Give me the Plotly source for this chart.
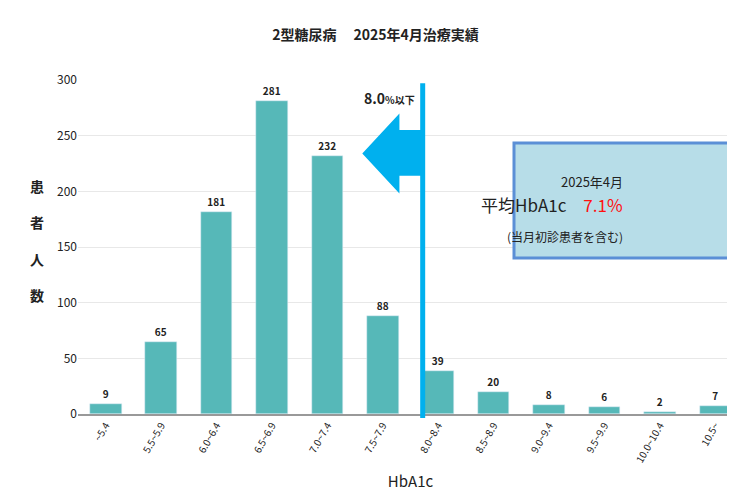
import plotly.graph_objects as go

categories = ["~5.4","5.5~5.9","6.0~6.4","6.5~6.9","7.0~7.4","7.5~7.9","8.0~8.4","8.5~8.9","9.0~9.4","9.5~9.9","10.0~10.4","10.5~"]
patients = [9,65,181,281,232,88,39,20,8,6,2,7]
y_ticks = [0,50,100,150,200,250,300]

F = "Noto Sans CJK JP"
fig = go.Figure(go.Bar(
    x=list(range(len(categories))), y=patients, width=0.57,
    marker_color="#56b8b8", text=[f"<b>{v}</b>" for v in patients], textposition="outside",
    textfont=dict(size=10, color="#222", family=F), cliponaxis=False))

fig.update_layout(
    width=735, height=498, margin=dict(l=70, r=0, t=72, b=92),
    plot_bgcolor="white", paper_bgcolor="white", showlegend=False,
    font=dict(family=F, color="#222"),
    bargap=0,
    title=dict(text="<b>2型糖尿病　 2025年4月治療実績</b>", x=0.5, xanchor="center", y=0.955, font=dict(size=14, color="#222")),
    xaxis=dict(tickmode="array", tickvals=list(range(len(categories))), ticktext=categories,
               range=[-0.5, len(categories)-0.5], tickangle=-60, tickfont=dict(size=10),
               showline=True, linecolor="#999", linewidth=1.5, ticks="", automargin=False,
               title=dict(text="HbA1c", font=dict(size=15), standoff=12)),
    yaxis=dict(range=[0,300], tickvals=y_ticks, gridcolor="#e8e8e8", tickfont=dict(size=12),
               showline=False, zeroline=False, automargin=False),
)
fig.add_annotation(text="<b>患<br><br>者<br><br>人<br><br>数</b>", xref="paper", yref="paper", x=-0.075, y=0.52,
                   showarrow=False, font=dict(size=14, color="#222"), align="center")
fig.add_shape(type="line", xref="x", yref="paper", x0=5.72, x1=5.72, y0=-0.012, y1=0.99,
              line=dict(color="#00b0ee", width=5))
fig.add_shape(type="path", xref="x", yref="y",
              path="M 5.72,255 L 5.3,255 L 5.3,270 L 4.63,234 L 5.3,198 L 5.3,214 L 5.72,214 Z",
              fillcolor="#00b0ee", line=dict(width=0))
fig.add_annotation(text="<b>8.0</b><span style='font-size:10px'><b>%以下</b></span>", xref="x", yref="y",
                   x=5.62, y=284, showarrow=False, xanchor="right", font=dict(size=14, color="#222"))
fig.add_shape(type="rect", xref="paper", yref="paper", x0=(506-70)/665, x1=(727-70)/665,
              y0=(406-250)/334, y1=(406-135)/334, fillcolor="#b7dde8", line=dict(color="#5b8fd6", width=3))
cx = ((506+727)/2-70)/665
fig.add_annotation(text="2025年4月", xref="paper", yref="paper", x=cx, y=(406-162)/334, showarrow=False,
                   font=dict(size=13))
fig.add_annotation(text="平均HbA1c　<span style='color:#ff1010'>7.1%</span>", xref="paper", yref="paper",
                   x=cx, y=(406-196)/334, showarrow=False, font=dict(size=17))
fig.add_annotation(text="(当月初診患者を含む)", xref="paper", yref="paper", x=cx, y=(406-228)/334,
                   showarrow=False, font=dict(size=12))
fig.write_html("out.html")
